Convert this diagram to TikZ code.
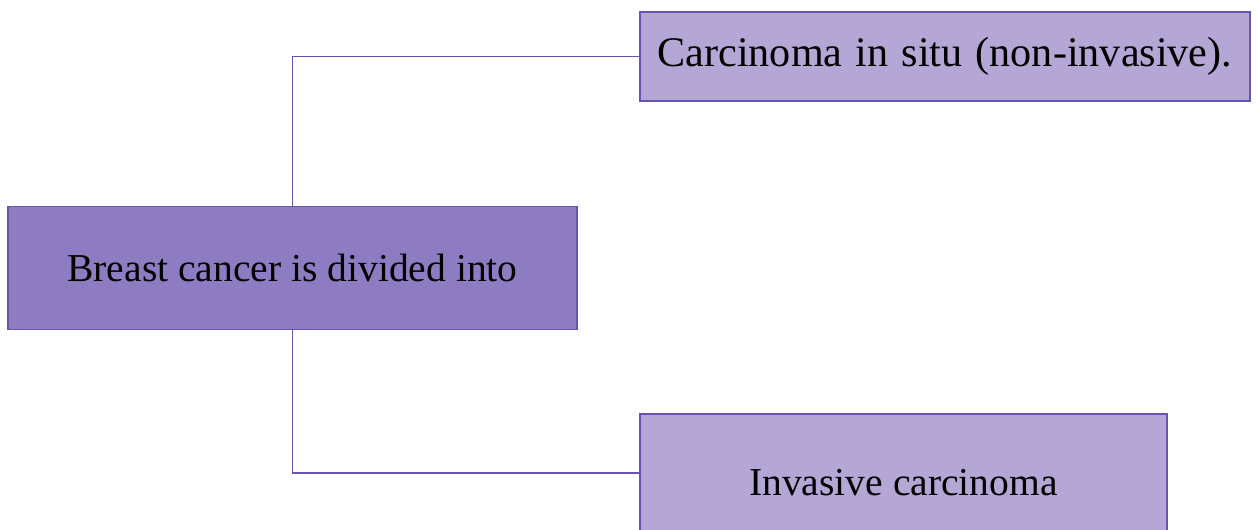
\documentclass[tikz,border=0pt]{standalone}
\usepackage{fontspec}
\setmainfont{Liberation Serif}
\definecolor{rootfill}{HTML}{8E7CC3}
\definecolor{leaffill}{HTML}{B4A7D6}
\definecolor{edgeline}{HTML}{6A52B0}

\begin{document}
\begin{tikzpicture}[
    x=0.02cm, y=-0.02cm,
    box/.style={
        draw=edgeline,
        line width=0.9pt,
        inner sep=0pt,
        font=\fontsize{22.5}{27}\selectfont
    },
    link/.style={
        draw=edgeline,
        line width=0.7pt
    }
]
% Page frame, in pixels of the reference (y runs downwards).
\clip (0,0) rectangle (1258,529);

\node[box, fill=rootfill, minimum width=569*0.02cm, minimum height=123*0.02cm]
    (root) at (292.5,268) {Breast cancer is divided into};

\node[box, fill=leaffill, minimum width=610*0.02cm, minimum height=89*0.02cm,
      text width=575*0.02cm, align=left]
    (insitu) at (945,56.5) {\fontsize{24}{28}\selectfont Carcinoma in situ (non-invasive).};

\node[box, fill=leaffill, minimum width=527*0.02cm, minimum height=138*0.02cm]
    (invasive) at (903.5,483) {Invasive carcinoma};

\draw[link] (root.north) |- (insitu.west);
\draw[link] (root.south) |- ([yshift=0.2cm]invasive.west);
\end{tikzpicture}
\end{document}
